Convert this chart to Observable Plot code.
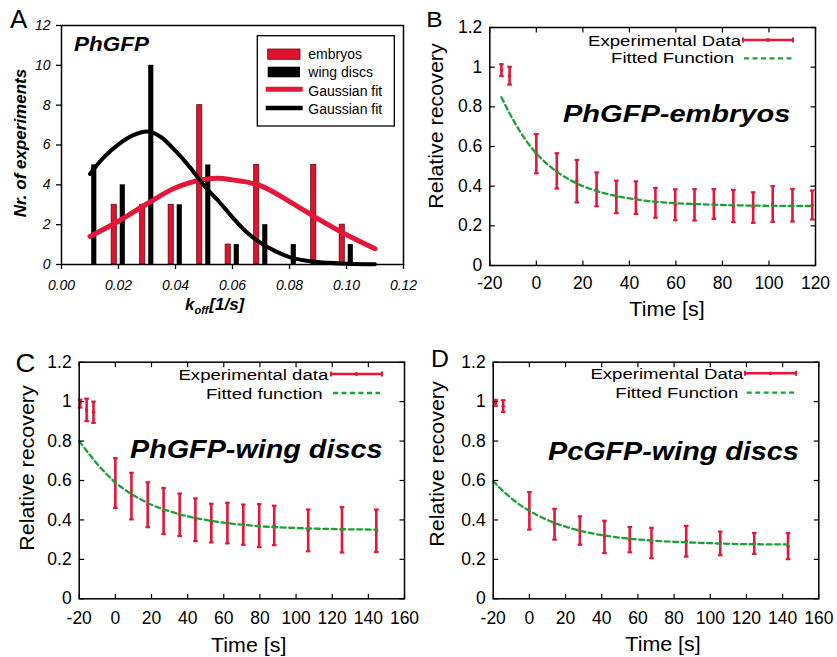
<!DOCTYPE html>
<html><head><meta charset="utf-8">
<script src="https://cdn.jsdelivr.net/npm/d3@7"></script>
<script src="https://cdn.jsdelivr.net/npm/@observablehq/plot@0.6"></script>
<style>
html,body{margin:0;padding:0;background:#fff;}
#wrap{position:relative;width:837px;height:657px;overflow:hidden;background:#fff;}
.panel{position:absolute;}
#overlay{position:absolute;left:0;top:0;pointer-events:none;}
</style></head><body><div id="wrap"></div>
<script>
// ---------- Panel A data ----------
const embX = [0.0185, 0.0285, 0.0385, 0.0485, 0.0585, 0.0685, 0.0885, 0.0985];
const embN = [3, 3, 3, 8, 1, 5, 5, 2];
const wingX = [0.0115, 0.0215, 0.0315, 0.0415, 0.0515, 0.0615, 0.0715, 0.0815, 0.1015];
const wingN = [5, 4, 10, 3, 5, 1, 2, 1, 1];
const fitRedX = [0.01, 0.02, 0.03, 0.04, 0.05, 0.055, 0.06, 0.07, 0.08, 0.09, 0.10, 0.11];
const fitRedY = [1.41, 2.17, 3.05, 3.85, 4.27, 4.33, 4.25, 3.95, 3.16, 2.29, 1.49, 0.79];
const fitBlkX = [0.01, 0.015, 0.02, 0.025, 0.03, 0.035, 0.04, 0.045, 0.05, 0.055, 0.06, 0.065, 0.07, 0.075, 0.08, 0.09, 0.10, 0.11];
const fitBlkY = [4.55, 5.4, 6.03, 6.48, 6.68, 6.39, 5.7, 4.89, 3.97, 3.2, 2.37, 1.62, 1.07, 0.67, 0.37, 0.12, 0.04, 0.01];
const ticksAx = [0, 0.02, 0.04, 0.06, 0.08, 0.10, 0.12];
const ticksAy = [0, 2, 4, 6, 8, 10, 12];

// ---------- Panel B data (PhGFP-embryos) ----------
const tB = [-15, -11.5, 0, 8.8, 17.4, 25.9, 34.4, 42.8, 51.2, 59.7, 68, 76.3, 84.7, 93.2, 101.6, 110.1, 118.6];
const yB = [0.985, 0.957, 0.564, 0.477, 0.425, 0.384, 0.346, 0.342, 0.316, 0.306, 0.306, 0.31, 0.30, 0.292, 0.31, 0.304, 0.305];
const eB = [0.03, 0.045, 0.099, 0.089, 0.107, 0.085, 0.082, 0.082, 0.075, 0.078, 0.079, 0.075, 0.081, 0.077, 0.09, 0.082, 0.073];
const fitTB = [-15, -10, -5, 0, 5, 10, 15, 20, 25, 30, 40, 50, 60, 70, 80, 100, 118.6];
const fitYB = [0.848, 0.735, 0.64, 0.565, 0.508, 0.463, 0.428, 0.40, 0.379, 0.362, 0.338, 0.323, 0.314, 0.309, 0.305, 0.301, 0.300];
const ticksB = [-20, 0, 20, 40, 60, 80, 100, 120];

// ---------- Panel C data (PhGFP-wing discs) ----------
const tC = [-19.5, -15.9, -12.1, 0, 8.9, 17.9, 26.7, 35.6, 44.3, 53.1, 62, 70.8, 79.6, 87.9, 106.7, 125.4, 144.4];
const yC = [0.99, 0.958, 0.946, 0.587, 0.521, 0.477, 0.445, 0.426, 0.401, 0.384, 0.384, 0.376, 0.371, 0.372, 0.347, 0.35, 0.345];
const eC = [0.02, 0.057, 0.054, 0.126, 0.118, 0.114, 0.117, 0.108, 0.108, 0.098, 0.103, 0.102, 0.109, 0.10, 0.106, 0.115, 0.108];
const fitTC = [-20, -15, -10, -5, 0, 5, 10, 15, 20, 30, 40, 50, 60, 80, 100, 120, 145];
const fitYC = [0.80, 0.74, 0.684, 0.634, 0.59, 0.555, 0.525, 0.50, 0.477, 0.444, 0.418, 0.40, 0.386, 0.368, 0.359, 0.354, 0.351];

// ---------- Panel D data (PcGFP-wing discs) ----------
const tD = [-18.7, -14.5, 0, 13.9, 27.9, 41.5, 55.5, 67.5, 86.7, 105.5, 124.3, 143];
const yD = [0.994, 0.977, 0.446, 0.378, 0.346, 0.314, 0.30, 0.283, 0.292, 0.281, 0.281, 0.267];
const eD = [0.015, 0.03, 0.095, 0.078, 0.072, 0.082, 0.064, 0.077, 0.078, 0.06, 0.053, 0.066];
const fitTD = [-20, -15, -10, -5, 0, 5, 10, 15, 20, 30, 40, 50, 60, 80, 100, 120, 143];
const fitYD = [0.597, 0.55, 0.51, 0.475, 0.446, 0.421, 0.40, 0.381, 0.366, 0.341, 0.323, 0.31, 0.301, 0.289, 0.282, 0.277, 0.276];
const ticksCD = [-20, 0, 20, 40, 60, 80, 100, 120, 140, 160];
const ticksRec = [0, 0.2, 0.4, 0.6, 0.8, 1, 1.2];

// ---------- styling ----------
const FAM = "'Liberation Sans', Arial, Helvetica, sans-serif";
const RED = "#e3173a";
const BARRED = "#e0142f";
const GREEN = "#1f9e3a";
const wrap = document.getElementById("wrap");

function place(node, left, top) {
  const d = document.createElement("div");
  d.className = "panel";
  d.style.left = left + "px";
  d.style.top = top + "px";
  d.appendChild(node);
  wrap.appendChild(d);
}

// ---------- Panel A ----------
const hw = 0.0009;
const emb = embX.map((x, i) => ({x, n: embN[i]}));
const wing = wingX.map((x, i) => ({x, n: wingN[i]}));
const fitRed = fitRedX.map((x, i) => ({x, y: fitRedY[i]}));
const fitBlk = fitBlkX.map((x, i) => ({x, y: fitBlkY[i]}));

const plotA = Plot.plot({
  width: 420, height: 320,
  marginLeft: 61, marginRight: 17, marginTop: 25, marginBottom: 56,
  style: {fontFamily: FAM, background: "transparent", overflow: "visible", color: "black"},
  x: {domain: [0, 0.12]},
  y: {domain: [0, 12]},
  marks: [
    Plot.rect(wing, {x1: d => d.x - hw, x2: d => d.x + hw, y1: 0, y2: "n", fill: "black"}),
    Plot.rect(emb, {x1: d => d.x - hw, x2: d => d.x + hw, y1: 0, y2: "n", fill: BARRED, stroke: "#5e0a14", strokeWidth: 0.8}),
    Plot.line(fitRed, {x: "x", y: "y", stroke: RED, strokeWidth: 5, curve: "monotone-x"}),
    Plot.line(fitBlk, {x: "x", y: "y", stroke: "black", strokeWidth: 4, curve: "monotone-x"}),
    Plot.frame({stroke: "black", strokeWidth: 1.5}),
    Plot.axisX({ticks: ticksAx, tickSize: 5, tickPadding: 11, strokeWidth: 1.3, tickFormat: d => d.toFixed(2), fontStyle: "italic", fontSize: 14, label: null}),
    Plot.axisY({ticks: ticksAy, tickSize: 5, tickPadding: 6, strokeWidth: 1.3, tickFormat: d => String(d), fontStyle: "italic", fontSize: 14, label: null})
  ]
});
place(plotA, 0, 0);

// ---------- Panels B, C, D ----------
const capSym = {draw(c) { c.moveTo(-2.3, 0); c.lineTo(2.3, 0); }};
const tk = (dx, dy) => ({draw(c) { c.moveTo(0, 0); c.lineTo(dx, dy); }});

function recovery({t, y, e, ft, fy, xt, w, h, ml, mr, mt, mb, padX}) {
  const pts = t.map((tt, i) => ({t: tt, y: y[i], e: e[i]}));
  const fit = ft.map((tt, i) => ({t: tt, y: fy[i]}));
  const tickOpts = {stroke: "black", strokeWidth: 1.2, fill: "none"};
  return Plot.plot({
    width: w, height: h,
    marginLeft: ml, marginRight: mr, marginTop: mt, marginBottom: mb,
    style: {fontFamily: FAM, background: "transparent", overflow: "visible", color: "black"},
    x: {domain: [xt[0], xt[xt.length - 1]]},
    y: {domain: [0, 1.2]},
    marks: [
      Plot.ruleX(pts, {x: "t", y1: d => d.y - d.e, y2: d => d.y + d.e, stroke: RED, strokeWidth: 2.6}),
      Plot.dot(pts, {x: "t", y: d => d.y + d.e, symbol: capSym, stroke: RED, strokeWidth: 2.2, fill: "none"}),
      Plot.dot(pts, {x: "t", y: d => d.y - d.e, symbol: capSym, stroke: RED, strokeWidth: 2.2, fill: "none"}),
      Plot.dot(pts, {x: "t", y: "y", r: 1.7, fill: RED}),
      Plot.line(fit, {x: "t", y: "y", stroke: GREEN, strokeWidth: 2.3, strokeDasharray: "5,3.5", curve: "monotone-x"}),
      Plot.frame({stroke: "black", strokeWidth: 1.5}),
      Plot.dot(xt, {x: d => d, frameAnchor: "bottom", symbol: tk(0, -5), ...tickOpts}),
      Plot.dot(xt, {x: d => d, frameAnchor: "top", symbol: tk(0, 5), ...tickOpts}),
      Plot.dot(ticksRec, {y: d => d, frameAnchor: "left", symbol: tk(5, 0), ...tickOpts}),
      Plot.dot(ticksRec, {y: d => d, frameAnchor: "right", symbol: tk(-5, 0), ...tickOpts}),
      Plot.axisX({ticks: xt, tickSize: 0, tickPadding: padX, tickFormat: d => String(d), fontSize: 17.5, label: null}),
      Plot.axisY({ticks: ticksRec, tickSize: 0, tickPadding: 7.5, tickFormat: d => String(d), fontSize: 17.5, label: null})
    ]
  });
}

place(recovery({t: tB, y: yB, e: eB, ft: fitTB, fy: fitYB, xt: ticksB, w: 417, h: 320, ml: 69.3, mr: 22, mt: 27, mb: 55, padX: 11}), 420, 0);
place(recovery({t: tC, y: yC, e: eC, ft: fitTC, fy: fitYC, xt: ticksCD, w: 420, h: 327, ml: 78.7, mr: 16, mt: 31.7, mb: 58.7, padX: 13}), 0, 330);
place(recovery({t: tD, y: yD, e: eD, ft: fitTD, fy: fitYD, xt: ticksCD, w: 417, h: 327, ml: 72.7, mr: 18.7, mt: 31.7, mb: 58.7, padX: 13}), 420, 330);

// ---------- overlay: panel letters, titles, legends, axis titles ----------
const svg = d3.create("svg").attr("id", "overlay").attr("width", 837).attr("height", 657)
  .attr("font-family", FAM);
function txt(x, y, s, {size = 16, weight = "normal", style = "normal", anchor = "start", sx = 1, rot = 0} = {}) {
  return svg.append("text")
    .attr("transform", `translate(${x},${y}) rotate(${rot}) scale(${sx},1)`)
    .attr("font-size", size).attr("font-weight", weight).attr("font-style", style)
    .attr("text-anchor", anchor).attr("fill", "black").text(s);
}
// panel letters
txt(10, 28.3, "A", {size: 26});
txt(426.3, 26.7, "B", {size: 22, sx: 1.12});
txt(15.5, 372, "C", {size: 25, sx: 1.1});
txt(431, 366.7, "D", {size: 23, sx: 1.08});
// titles
txt(74, 50.7, "PhGFP", {size: 21, weight: "bold", style: "italic", sx: 1.07});
txt(563, 122, "PhGFP-embryos", {size: 24, weight: "bold", style: "italic", sx: 1.21});
txt(130, 458.3, "PhGFP-wing discs", {size: 25, weight: "bold", style: "italic", sx: 1.15});
txt(548, 460, "PcGFP-wing discs", {size: 25, weight: "bold", style: "italic", sx: 1.15});

// panel A axis titles
txt(25.5, 143, "Nr. of experiments", {size: 17, weight: "bold", style: "italic", anchor: "middle", rot: -90});
const kt = svg.append("text").attr("transform", "translate(185,310)")
  .attr("font-size", 17).attr("font-weight", "bold").attr("font-style", "italic").attr("fill", "black");
kt.append("tspan").text("k");
kt.append("tspan").attr("font-size", 11).attr("dy", 4).text("off");
kt.append("tspan").attr("dy", -4).attr("dx", 1).text("[1/s]");

// panel A legend
svg.append("rect").attr("x", 257.3).attr("y", 35.7).attr("width", 137).attr("height", 90.3)
  .attr("fill", "white").attr("stroke", "black").attr("stroke-width", 1.3);
svg.append("rect").attr("x", 267.7).attr("y", 49).attr("width", 32.3).attr("height", 10.3)
  .attr("fill", BARRED).attr("stroke", "#5e0a14").attr("stroke-width", 0.8);
svg.append("rect").attr("x", 267.7).attr("y", 66.7).attr("width", 32.3).attr("height", 10.6).attr("fill", "black");
svg.append("line").attr("x1", 265.7).attr("x2", 302.7).attr("y1", 89.3).attr("y2", 89.3).attr("stroke", RED).attr("stroke-width", 5);
svg.append("line").attr("x1", 265.7).attr("x2", 302.7).attr("y1", 108).attr("y2", 108).attr("stroke", "black").attr("stroke-width", 4.5);
txt(308.3, 59.3, "embryos", {size: 14});
txt(308.3, 77, "wing discs", {size: 14});
txt(308.3, 96, "Gaussian fit", {size: 14});
txt(308.3, 114, "Gaussian fit", {size: 14});

// recovery legends
function recLegend({l1, l2, x1, y1, x2, y2, lx1, lx2, ly1, dx1, dx2, ly2}) {
  txt(x1, y1, l1, {size: 15.5, anchor: "end", sx: 1.2});
  txt(x2, y2, l2, {size: 15.5, anchor: "end", sx: 1.2});
  svg.append("line").attr("x1", lx1).attr("x2", lx2).attr("y1", ly1).attr("y2", ly1).attr("stroke", RED).attr("stroke-width", 2.4);
  for (const xx of [lx1, lx2]) {
    svg.append("line").attr("x1", xx).attr("x2", xx).attr("y1", ly1 - 2.5).attr("y2", ly1 + 2.5).attr("stroke", RED).attr("stroke-width", 2);
  }
  svg.append("circle").attr("cx", (lx1 + lx2) / 2).attr("cy", ly1).attr("r", 1.9).attr("fill", RED);
  svg.append("line").attr("x1", dx1).attr("x2", dx2).attr("y1", ly2).attr("y2", ly2)
    .attr("stroke", GREEN).attr("stroke-width", 2.3).attr("stroke-dasharray", "5,3.5");
}
recLegend({l1: "Experimental Data", l2: "Fitted Function", x1: 741, y1: 46, x2: 734, y2: 63, lx1: 743, lx2: 793, ly1: 40, dx1: 744, dx2: 792, ly2: 58.3});
recLegend({l1: "Experimental data", l2: "Fitted function", x1: 328.3, y1: 379.5, x2: 322.7, y2: 399, lx1: 331, lx2: 382, ly1: 374, dx1: 333, dx2: 380, ly2: 393});
recLegend({l1: "Experimental Data", l2: "Fitted Function", x1: 743.3, y1: 379, x2: 738.3, y2: 398.3, lx1: 745, lx2: 796, ly1: 373.3, dx1: 746.7, dx2: 794, ly2: 392.7});

// recovery axis titles
txt(442.7, 126, "Relative recovery", {size: 20, anchor: "middle", rot: -90, sx: 1.07});
txt(33.5, 468, "Relative recovery", {size: 20, anchor: "middle", rot: -90, sx: 1.07});
txt(444, 464, "Relative recovery", {size: 20, anchor: "middle", rot: -90, sx: 1.07});
txt(667, 315.7, "Time [s]", {size: 20, anchor: "middle", sx: 1.07});
txt(248.7, 651.7, "Time [s]", {size: 20, anchor: "middle", sx: 1.07});
txt(663, 650.7, "Time [s]", {size: 20, anchor: "middle", sx: 1.07});

wrap.appendChild(svg.node());
</script></body></html>
